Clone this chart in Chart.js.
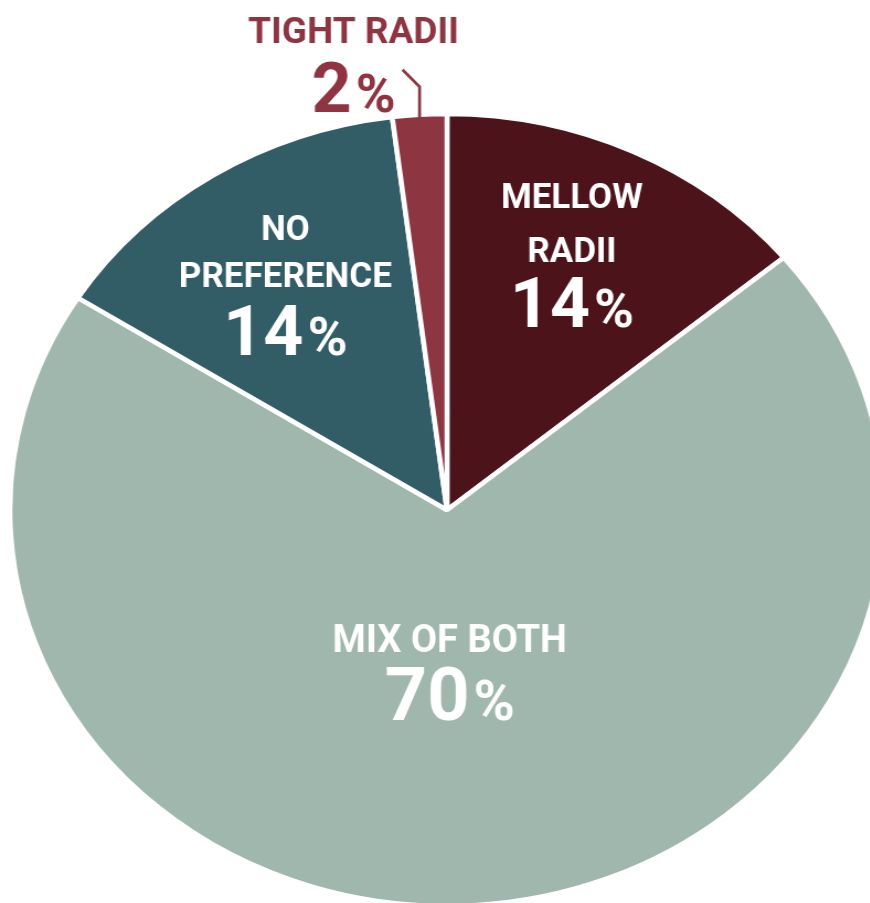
<!DOCTYPE html>
<html>
<head>
<meta charset="utf-8">
<script src="https://cdn.jsdelivr.net/npm/chart.js@4.4.0/dist/chart.umd.min.js"></script>
<style>
  html, body { margin: 0; padding: 0; background: #fff; overflow: hidden; width: 870px; height: 903px; }
  #pie { display: block; }
</style>
</head>
<body>
<canvas id="pie" width="810" height="910" style="width: 894px; height: 910px;"></canvas>
<script>
// Datos de la encuesta
const categories = ['MELLOW RADII', 'MIX OF BOTH', 'NO PREFERENCE', 'TIGHT RADII'];
const percentages = [14, 70, 14, 2];
const labelLines = [['MELLOW', 'RADII'], ['MIX OF BOTH'], ['NO', 'PREFERENCE'], ['TIGHT RADII']];
const sliceColors = ['#4c131b', '#9fb7ad', '#325c66', '#8d3642'];

// the reference is stretched sideways, so the canvas is drawn narrow and widened by css
const STRETCH = 894 / 810;

// where each label sits: fraction of the radius along the slice middle, then baseline offsets
const LAYOUT = [
  { f: 0.682, dx: -2, names: [-58, -4], pct: 61, nameSize: 35, bigSize: 70, smallSize: 54, color: '#ffffff' },
  { f: 0.429, dx: -9, names: [-28], pct: 40, nameSize: 38, bigSize: 74, smallSize: 56, color: '#ffffff' },
  { f: 0.669, dx: -5, names: [-46, 1], pct: 69, nameSize: 35, bigSize: 70, smallSize: 54, color: '#ffffff' },
  { f: 1.0, dx: -66, names: [-72], pct: -3, nameSize: 37, bigSize: 70, smallSize: 54, color: '#8e3541', leader: true }
];

const drawPct = (ctx, value, cx, baseline, big, small) => {
  ctx.font = `bold ${big}px Roboto`;
  const wBig = ctx.measureText(String(value)).width;
  ctx.font = `bold ${small}px Roboto`;
  const wSmall = ctx.measureText('%').width;
  const gap = 4;
  const left = cx - (wBig + gap + wSmall) / 2;
  ctx.textAlign = 'left';
  ctx.font = `bold ${big}px Roboto`;
  ctx.fillText(String(value), left, baseline);
  ctx.font = `bold ${small}px Roboto`;
  ctx.fillText('%', left + wBig + gap, baseline);
};

const sliceLabels = {
  id: 'sliceLabels',
  afterDatasetsDraw(chart) {
    const ctx = chart.ctx;
    const arcs = chart.getDatasetMeta(0).data;
    ctx.save();
    ctx.scale(1 / STRETCH, 1);
    arcs.forEach((arc, i) => {
      const lay = LAYOUT[i];
      const mid = (arc.startAngle + arc.endAngle) / 2;
      const r = arc.outerRadius * lay.f;
      const ax = (arc.x + Math.cos(mid) * r) * STRETCH;
      const ay = arc.y + Math.sin(mid) * r;
      const cx = ax + lay.dx;
      ctx.fillStyle = lay.color;

      if (lay.leader) {
        ctx.strokeStyle = lay.color;
        ctx.lineWidth = 3;
        ctx.lineJoin = 'miter';
        ctx.beginPath();
        ctx.moveTo(ax, ay + 3);
        ctx.lineTo(ax, ay - 28);
        ctx.lineTo(ax - 17, ay - 45);
        ctx.stroke();
      }

      ctx.textAlign = 'center';
      ctx.textBaseline = 'alphabetic';
      ctx.font = `bold ${lay.nameSize}px Roboto`;
      labelLines[i].forEach((txt, k) => {
        ctx.fillText(txt, cx, ay + lay.names[k]);
      });
      drawPct(ctx, percentages[i], cx, ay + lay.pct, lay.bigSize, lay.smallSize);
    });
    ctx.restore();
  }
};

new Chart(document.getElementById('pie'), {
  type: 'pie',
  data: {
    labels: categories,
    datasets: [{
      data: percentages,
      backgroundColor: sliceColors,
      borderColor: '#ffffff',
      borderWidth: 4.5,
      radius: 396
    }]
  },
  options: {
    responsive: false,
    animation: false,
    layout: { padding: { top: 110, bottom: 0, left: 0, right: 0 } },
    plugins: {
      legend: { display: false },
      tooltip: { enabled: false }
    }
  },
  plugins: [sliceLabels]
});
</script>
</body>
</html>
